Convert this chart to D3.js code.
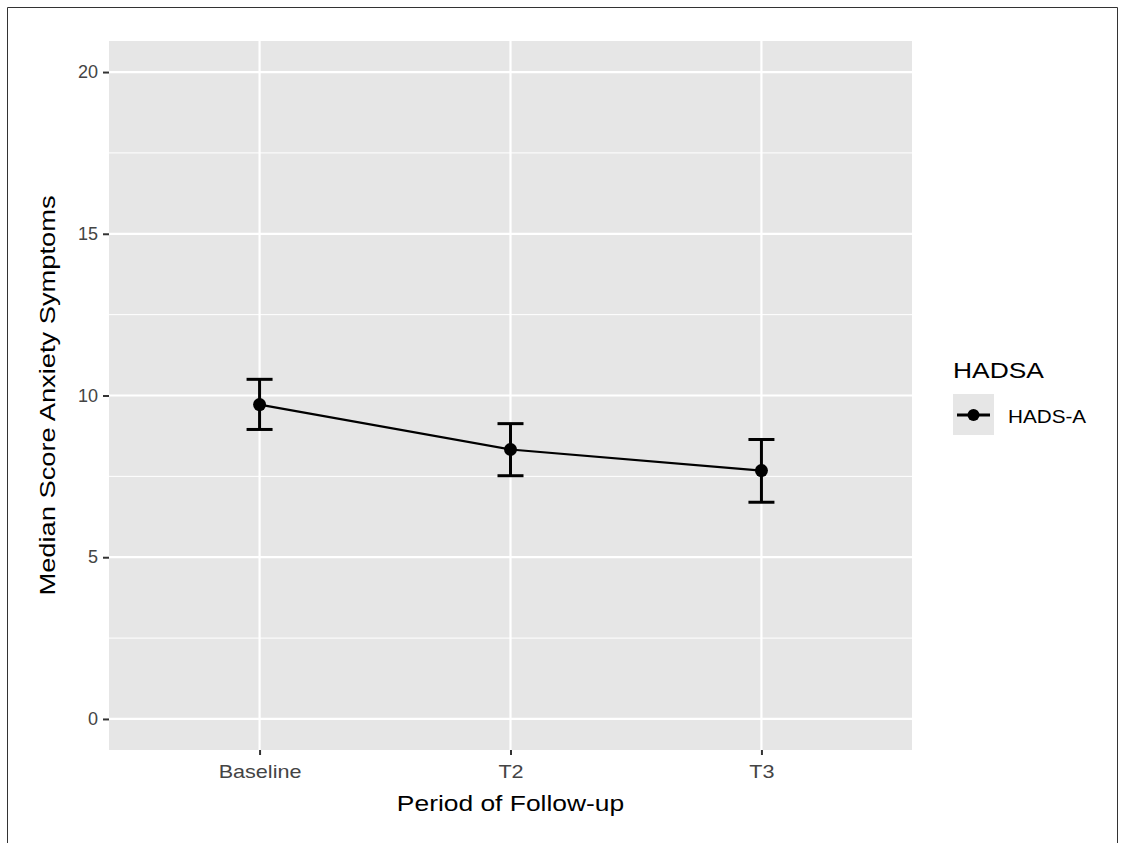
<!DOCTYPE html>
<html>
<head>
<meta charset="utf-8">
<script src="https://cdn.jsdelivr.net/npm/d3@7"></script>
<style>
  html, body { margin: 0; padding: 0; background: #fff; }
  svg { display: block; font-family: "Liberation Sans", Arial, sans-serif; }
</style>
</head>
<body>
<svg id="chart" width="1125" height="843"></svg>
<script>
// ---- data ----
const categories = ["Baseline", "T2", "T3"];
const medians = [9.72, 8.33, 7.68];
const lowerCI = [8.95, 7.52, 6.70];
const upperCI = [10.5, 9.13, 8.64];
const yTicks = [0, 5, 10, 15, 20];
const yMinorTicks = [2.5, 7.5, 12.5, 17.5];
const seriesName = "HADS-A";
const legendTitle = "HADSA";
const xTitle = "Period of Follow-up";
const yTitle = "Median Score Anxiety Symptoms";

const svg = d3.select("#chart");
const panel = { left: 109, right: 912, top: 41, bottom: 750 };
const panelFill = "#E6E6E6";

// figure border (top, left, right)
svg.append("path").attr("d", "M7.5,843 V7.5 H1117.5 V843")
  .attr("fill", "none").attr("stroke", "#333").attr("stroke-width", 1);

const x = d3.scalePoint().domain(categories)
  .range([panel.left, panel.right]).padding(0.6);
const y = d3.scaleLinear().domain([-0.96, 20.96]).range([panel.bottom, panel.top]);

// panel background
svg.append("rect").attr("x", panel.left).attr("y", panel.top)
  .attr("width", panel.right - panel.left).attr("height", panel.bottom - panel.top)
  .attr("fill", panelFill);

const grid = svg.append("g");
grid.selectAll(".ymin").data(yMinorTicks).join("line")
  .attr("x1", panel.left).attr("x2", panel.right)
  .attr("y1", d => y(d)).attr("y2", d => y(d))
  .attr("stroke", "#fff").attr("stroke-width", 1);
grid.selectAll(".ymaj").data(yTicks).join("line")
  .attr("x1", panel.left).attr("x2", panel.right)
  .attr("y1", d => y(d)).attr("y2", d => y(d))
  .attr("stroke", "#fff").attr("stroke-width", 2.2);
grid.selectAll(".xmaj").data(categories).join("line")
  .attr("y1", panel.top).attr("y2", panel.bottom)
  .attr("x1", d => x(d)).attr("x2", d => x(d))
  .attr("stroke", "#fff").attr("stroke-width", 2.2);

// axes
const yAxis = svg.append("g").attr("transform", `translate(${panel.left},0)`)
  .call(d3.axisLeft(y).tickValues(yTicks).tickSize(6).tickPadding(5));
yAxis.select(".domain").remove();
yAxis.selectAll(".tick line").attr("stroke", "#333").attr("stroke-width", 2);
yAxis.selectAll(".tick text").attr("fill", "#444").attr("font-size", 18)
  .attr("font-family", "Liberation Sans, Arial, sans-serif");

const xAxis = svg.append("g").attr("transform", `translate(0,${panel.bottom})`)
  .call(d3.axisBottom(x).tickSize(5).tickPadding(10));
xAxis.select(".domain").remove();
xAxis.selectAll(".tick line").attr("stroke", "#333").attr("stroke-width", 2);
xAxis.selectAll(".tick text").attr("fill", "#444").attr("font-size", 18)
  .attr("font-family", "Liberation Sans, Arial, sans-serif")
  .attr("transform", "scale(1.2,1)")
  .attr("x", 0);

// axis titles (slightly wide face, as in the reference)
svg.append("text").attr("transform", `translate(${(panel.left + panel.right) / 2},811) scale(1.2,1)`)
  .attr("text-anchor", "middle").attr("font-size", 22).attr("fill", "#000").text(xTitle);
svg.append("text").attr("transform", `translate(55,${(panel.top + panel.bottom) / 2}) rotate(-90) scale(1.24,1)`)
  .attr("text-anchor", "middle").attr("font-size", 22).attr("fill", "#000").text(yTitle);

// data
const data = categories.map((c, i) => ({ c, m: medians[i], lo: lowerCI[i], hi: upperCI[i] }));
const cap = 13;
const eb = svg.append("g").attr("stroke", "#000").attr("stroke-width", 3);
data.forEach(d => {
  eb.append("line").attr("x1", x(d.c)).attr("x2", x(d.c)).attr("y1", y(d.lo)).attr("y2", y(d.hi));
  eb.append("line").attr("x1", x(d.c) - cap).attr("x2", x(d.c) + cap).attr("y1", y(d.lo)).attr("y2", y(d.lo));
  eb.append("line").attr("x1", x(d.c) - cap).attr("x2", x(d.c) + cap).attr("y1", y(d.hi)).attr("y2", y(d.hi));
});
svg.append("path").datum(data)
  .attr("d", d3.line().x(d => x(d.c)).y(d => y(d.m)))
  .attr("fill", "none").attr("stroke", "#000").attr("stroke-width", 2.2);
svg.selectAll(".pt").data(data).join("circle")
  .attr("cx", d => x(d.c)).attr("cy", d => y(d.m)).attr("r", 6.5).attr("fill", "#000");

// legend
const lg = svg.append("g");
lg.append("text").attr("transform", "translate(953,378) scale(1.2,1)")
  .attr("font-size", 22).attr("fill", "#000").text(legendTitle);
lg.append("rect").attr("x", 953).attr("y", 394).attr("width", 41).attr("height", 41).attr("fill", panelFill);
lg.append("line").attr("x1", 957).attr("x2", 990).attr("y1", 415).attr("y2", 415)
  .attr("stroke", "#000").attr("stroke-width", 2.8);
lg.append("circle").attr("cx", 973.5).attr("cy", 415).attr("r", 6).attr("fill", "#000");
lg.append("text").attr("transform", "translate(1008,423) scale(1.15,1)")
  .attr("font-size", 18).attr("fill", "#000").text(seriesName);
</script>
</body>
</html>
